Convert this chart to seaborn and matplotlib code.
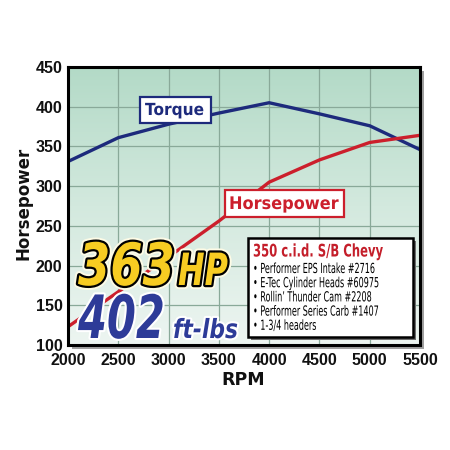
import numpy as np
import pandas as pd
import matplotlib
matplotlib.use("Agg")
import matplotlib.pyplot as plt
import seaborn as sns
from matplotlib.colors import LinearSegmentedColormap
from matplotlib.patches import Rectangle
from matplotlib.transforms import Affine2D
import matplotlib.patheffects as pe

rpm = [2000, 2500, 3000, 3500, 4000, 4500, 5000, 5500]
torque = [331, 361, 378, 392, 405, 391, 376, 346]
horsepower = [123, 167, 211, 256, 305, 333, 355, 364]
x_ticks = [2000, 2500, 3000, 3500, 4000, 4500, 5000, 5500]
y_ticks = [100, 150, 200, 250, 300, 350, 400, 450]
box_title = "350 c.i.d. S/B Chevy"
box_items = ["Performer EPS Intake #2716", "E-Tec Cylinder Heads #60975",
             "Rollin’ Thunder Cam #2208", "Performer Series Carb #1407",
             "1-3/4 headers"]

sns.set_style("white")
plt.rcParams["font.family"] = ["DejaVu Sans"]

W = H = 450
fig = plt.figure(figsize=(4.5, 4.5), dpi=100)
fig.patch.set_facecolor("white")


def fx(x):
    return x / W


def fy(y):
    return 1 - y / H


class Stretch(pe.AbstractPathEffect):
    """Vertically stretch text paths about the baseline (emulates a condensed face)."""
    def __init__(self, sy, inner):
        super().__init__()
        self.sy = sy
        self.inner = inner

    def draw_path(self, renderer, gc, tpath, affine, rgbFace=None):
        self.inner.draw_path(renderer, gc, tpath,
                             Affine2D().scale(1, self.sy) + affine, rgbFace)


def cond_text(x, y, s, target_w, fontsize, effects=None, ratio=None, **kw):
    """Draw text at baseline (x, y) in px, condensed to target width."""
    t = fig.text(fx(x), fy(y), s, ha="left", va="baseline", fontsize=fontsize, **kw)
    if ratio is None:
        w = t.get_window_extent(fig.canvas.get_renderer()).width
        ratio = target_w / w
    t.set_fontsize(fontsize * ratio)
    effects = effects or [pe.Normal()]
    t.set_path_effects([Stretch(1 / ratio, e) for e in effects])
    return t, ratio


L, R, T, B = 68, 420, 67, 345
fig.patches.append(Rectangle((fx(L + 4), fy(B + 4)), (R - L) / W, (B - T) / H,
                             transform=fig.transFigure, facecolor="#a0a0a0",
                             edgecolor="none", zorder=-2))
ax = fig.add_axes([fx(L), fy(B), (R - L) / W, (B - T) / H])
ax.set_zorder(1)

cmap = LinearSegmentedColormap.from_list("bg", ["#edf5f1", "#d3e9de", "#b3dac7"])
grad = np.linspace(0, 1, 256).reshape(-1, 1)
ax.imshow(grad, extent=[2000, 5500, 100, 450], origin="lower", aspect="auto",
          cmap=cmap, zorder=0)

df = pd.DataFrame({"rpm": rpm * 2, "value": torque + horsepower,
                   "series": ["Torque"] * len(rpm) + ["Horsepower"] * len(rpm)})
sns.lineplot(data=df, x="rpm", y="value", hue="series",
             palette={"Torque": "#1d2a7c", "Horsepower": "#cc1f2c"},
             linewidth=2.4, legend=False, ax=ax, zorder=3)

ax.set_xlim(2000, 5500)
ax.set_ylim(100, 450)
ax.set_xticks(x_ticks)
ax.set_yticks(y_ticks)
ax.grid(True, color="#89a999", linewidth=0.9, zorder=1)
ax.set_axisbelow(False)
for s in ax.spines.values():
    s.set_color("black")
    s.set_linewidth(2.2)
    s.set_zorder(6)
ax.tick_params(length=0, labelsize=11.5, colors="#111111")
ax.tick_params(axis="x", pad=6)
ax.tick_params(axis="y", pad=4)
for lab in ax.get_xticklabels() + ax.get_yticklabels():
    lab.set_fontweight("bold")
    lab.set_family(["Liberation Sans", "DejaVu Sans"])
ax.set_xlabel("")
ax.set_ylabel("")
fig.text(fx(243), fy(380), "RPM", fontsize=12.5, fontweight="bold", ha="center",
         va="center", color="#111111")
fig.text(fx(23), fy(203), "Horsepower", fontsize=12, fontweight="bold", ha="center",
         va="center", rotation=90, color="#111111")

# series labels
fig.patches.append(Rectangle((fx(140), fy(123)), 71 / W, 26 / H, transform=fig.transFigure,
                             facecolor="white", edgecolor="#1d2a7c", linewidth=1.6, zorder=7))
cond_text(145, 115, "Torque", 59, 12, fontweight="bold", color="#1d2a7c", zorder=8)
fig.patches.append(Rectangle((fx(225), fy(217)), 119 / W, 27 / H, transform=fig.transFigure,
                             facecolor="white", edgecolor="#cc1f2c", linewidth=1.6, zorder=7))
cond_text(229, 209, "Horsepower", 110, 12.5, fontweight="bold", color="#cc1f2c", zorder=8)

# big numbers
ystroke = [pe.Stroke(linewidth=6, foreground="#fdfbe6"),
           pe.Stroke(linewidth=3.2, foreground="black"), pe.Normal()]
bstroke = [pe.Stroke(linewidth=3, foreground="white"), pe.Normal()]
cond_text(78, 285, "363", 97, 42, effects=ystroke, fontweight="bold",
          style="italic", color="#f7cc22", zorder=8)
cond_text(178, 285, "HP", 50, 32, effects=ystroke, fontweight="bold",
          style="italic", color="#f7cc22", zorder=8)
cond_text(78, 338, "402", 87, 43, effects=bstroke, fontweight="bold",
          style="italic", color="#2d3b98", zorder=8)
cond_text(173, 338, "ft-lbs", 65, 19, effects=bstroke, fontweight="bold",
          style="italic", color="#2d3b98", zorder=8)

# spec box
bx0, by0, bx1, by1 = 248, 238, 413, 337
fig.patches.append(Rectangle((fx(bx0 + 3), fy(by1 + 3)), (bx1 - bx0) / W, (by1 - by0) / H,
                             transform=fig.transFigure, facecolor="#6f6f6f",
                             edgecolor="none", zorder=8))
fig.patches.append(Rectangle((fx(bx0), fy(by1)), (bx1 - bx0) / W, (by1 - by0) / H,
                             transform=fig.transFigure, facecolor="white",
                             edgecolor="black", linewidth=1.8, zorder=9))
cond_text(253, 256.5, box_title, 130, 12.5, fontweight="bold", color="#c41e2a", zorder=10)
ratio = None
for i, item in enumerate(box_items):
    _, ratio = cond_text(253, 273 + i * 14.2, "• " + item, 122, 10, ratio=ratio,
                         color="black", zorder=10)

fig.savefig("out.png", dpi=100)
